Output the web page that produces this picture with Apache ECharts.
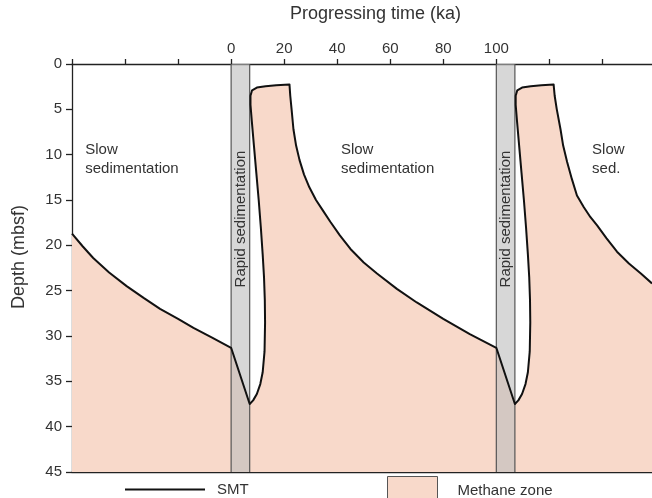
<!DOCTYPE html>
<html>
<head>
<meta charset="utf-8">
<script src="https://cdn.jsdelivr.net/npm/echarts@6/dist/echarts.min.js"></script>
<style>
html,body{margin:0;padding:0;background:#fff;}
#chart{width:652px;height:498px;}
</style>
</head>
<body>
<div id="chart"></div>
<script>
// ---- Data ----
var timeMin = -60, timeMax = 158.7;
var depthMin = 0, depthMax = 45;
var xTickLabels = [0, 20, 40, 60, 80, 100];

// SMT (sulfate-methane transition) depth vs progressing time
var smtTime = [-60,-56,-52,-46,-39.4,-33,-26.8,-20,-14.2,-7,0,
  7,
  8.3,9.7,11.0,11.9,12.6,12.8,12.7,12.4,11.9,11.2,10.4,9.5,8.6,7.8,7.3,7.3,7.9,9.7,13,17,22,
  22.3,22.8,23.5,24.5,25.8,27.5,29.5,32,34.7,37.4,41,45,50,55,62.5,70,80,90,100,
  107,
  108.3,109.7,111.0,111.9,112.6,112.8,112.7,112.4,111.9,111.2,110.4,109.5,108.6,107.8,107.3,107.3,107.9,109.7,113,117,121.6,
  122,122.8,124.2,125.2,126.7,128.5,130.4,133,135.5,138,141.5,145.5,150,154.5,158.7];
var smtDepth = [18.7,20.1,21.4,23.0,24.5,25.8,27.0,28.1,29.1,30.2,31.3,
  37.5,
  37.1,36.4,35.3,34.0,31.7,28.5,26.0,23.5,21.0,18.0,15.0,12.0,9.0,6.3,4.5,3.5,2.9,2.6,2.45,2.35,2.25,
  3.5,5.0,7.2,9.0,10.6,12.2,13.6,15.0,16.2,17.4,18.9,20.4,21.9,23.1,24.8,26.3,28.1,29.8,31.3,
  37.5,
  37.1,36.4,35.3,34.0,31.7,28.5,26.0,23.5,21.0,18.0,15.0,12.0,9.0,6.3,4.5,3.5,2.9,2.6,2.45,2.35,2.25,
  3.5,5.0,7.2,9.0,10.8,12.7,14.5,15.8,16.9,17.8,19.2,20.7,22.0,23.1,24.2];

// Rapid sedimentation intervals (ka)
var bandStart = [0, 100];
var bandEnd = [7, 107];
var bandLabel = 'Rapid sedimentation';
var bandLabelDepth = 17.1;

// Annotations
var noteTime = [-55, 41.4, 136.1];
var noteDepth = [8.4, 8.4, 8.4];
var noteText = ['Slow\nsedimentation', 'Slow\nsedimentation', 'Slow\nsed.'];

// ---- Chart ----
var FONT = '"Liberation Sans", Arial, Helvetica, sans-serif';
var TXT = '#333';
var methaneColor = '#f8d9ca';

var smtData = smtTime.map(function (t, i) { return [t, smtDepth[i]]; });
var bandData = bandStart.map(function (s, i) { return [s, bandEnd[i]]; });
var noteData = noteTime.map(function (t, i) { return [t, noteDepth[i]]; });

var chart = echarts.init(document.getElementById('chart'));
chart.setOption({
  animation: false,
  backgroundColor: '#fff',
  textStyle: { fontFamily: FONT },
  grid: { left: 72, right: 0, top: 61, bottom: 26, containLabel: false },
  xAxis: [{
    type: 'value', position: 'top', min: timeMin, max: timeMax, interval: 20,
    name: 'Progressing time (ka)', nameLocation: 'middle', nameGap: 41,
    nameTextStyle: { fontSize: 18, color: TXT, fontFamily: FONT, padding: [0, 0, 0, 27] },
    axisLine: { show: true, onZero: false, lineStyle: { color: '#222', width: 1.3 } },
    axisTick: { show: true, inside: false, length: 5, lineStyle: { color: '#222', width: 1.3 } },
    axisLabel: {
      show: true, margin: 8, fontSize: 15, color: TXT, fontFamily: FONT,
      showMaxLabel: false,
      formatter: function (v) { return xTickLabels.indexOf(Math.round(v)) >= 0 && Math.abs(v - Math.round(v)) < 1e-6 ? String(Math.round(v)) : ''; }
    },
    splitLine: { show: false }
  }, {
    type: 'value', position: 'bottom', min: timeMin, max: timeMax,
    axisLine: { show: true, onZero: false, lineStyle: { color: '#222', width: 1.3 } },
    axisTick: { show: false }, axisLabel: { show: false }, splitLine: { show: false }
  }],
  yAxis: {
    type: 'value', inverse: true, min: depthMin, max: depthMax, interval: 5,
    name: 'Depth (mbsf)', nameLocation: 'middle', nameGap: 44, nameRotate: 90,
    nameTextStyle: { fontSize: 18, color: TXT, fontFamily: FONT, padding: [0, 0, 0, 22] },
    axisLine: { show: true, onZero: false, lineStyle: { color: '#222', width: 1.3 } },
    axisTick: { show: true, inside: false, length: 6, lineStyle: { color: '#222', width: 1.3 } },
    axisLabel: { show: true, margin: 10, fontSize: 15, color: TXT, fontFamily: FONT },
    splitLine: { show: false }
  },
  legend: [{
    left: 125, top: 482, padding: 0, itemWidth: 80, itemHeight: 2,
    textStyle: { fontSize: 15, color: TXT, fontFamily: FONT, padding: [0, 0, 0, 7] },
    data: [{ name: 'SMT', icon: 'rect', itemStyle: { color: '#111', borderWidth: 0 } }],
    selectedMode: false
  }, {
    left: 387, top: 476, padding: 0, itemWidth: 50, itemHeight: 28,
    textStyle: { fontSize: 15, color: TXT, fontFamily: FONT, padding: [0, 0, 0, 15] },
    data: [{ name: 'Methane zone', icon: 'rect', itemStyle: { color: methaneColor, borderColor: '#555', borderWidth: 1 } }],
    selectedMode: false
  }],
  series: [{
    name: 'Methane zone',
    type: 'custom',
    xAxisIndex: 0,
    z: 1,
    silent: true,
    itemStyle: { color: methaneColor },
    data: [[0, 0]],
    renderItem: function (params, api) {
      var pts = smtData.map(function (d) { return api.coord(d); });
      pts.push(api.coord([smtTime[smtTime.length - 1], depthMax]));
      pts.push(api.coord([smtTime[0], depthMax]));
      return {
        type: 'polygon',
        shape: { points: pts },
        style: { fill: methaneColor, stroke: 'none' }
      };
    }
  }, {
    name: 'bands',
    type: 'custom',
    xAxisIndex: 0,
    z: 3,
    silent: true,
    data: bandData,
    renderItem: function (params, api) {
      var p0 = api.coord([api.value(0), depthMin]);
      var p1 = api.coord([api.value(1), depthMax]);
      var cx = (p0[0] + p1[0]) / 2;
      var cy = api.coord([api.value(0), bandLabelDepth])[1];
      return {
        type: 'group',
        children: [{
          type: 'rect',
          shape: { x: p0[0], y: p0[1], width: p1[0] - p0[0], height: p1[1] - p0[1] },
          style: { fill: 'rgba(188,188,188,0.6)', stroke: 'none' }
        }, {
          type: 'line',
          shape: { x1: p0[0], y1: p0[1], x2: p0[0], y2: p1[1] },
          style: { stroke: '#555', lineWidth: 1.2 }
        }, {
          type: 'line',
          shape: { x1: p1[0], y1: p0[1], x2: p1[0], y2: p1[1] },
          style: { stroke: '#555', lineWidth: 1.2 }
        }, {
          type: 'text',
          x: cx, y: cy,
          rotation: Math.PI / 2,
          style: {
            text: bandLabel, fill: TXT, fontSize: 15, fontFamily: FONT,
            align: 'center', verticalAlign: 'middle'
          }
        }]
      };
    }
  }, {
    name: 'SMT',
    type: 'line',
    xAxisIndex: 0,
    z: 5,
    data: smtData,
    showSymbol: false,
    symbol: 'none',
    smooth: false,
    clip: true,
    lineStyle: { color: '#111', width: 2, join: 'round' },
    itemStyle: { color: '#111' },
    silent: true
  }, {
    name: 'notes',
    type: 'custom',
    xAxisIndex: 0,
    z: 6,
    silent: true,
    data: noteData,
    renderItem: function (params, api) {
      var p = api.coord([api.value(0), api.value(1)]);
      return {
        type: 'text',
        x: p[0], y: p[1],
        style: {
          text: noteText[params.dataIndex], fill: TXT, fontSize: 15, fontFamily: FONT,
          align: 'left', verticalAlign: 'top', lineHeight: 19
        }
      };
    }
  }]
});
</script>
</body>
</html>
